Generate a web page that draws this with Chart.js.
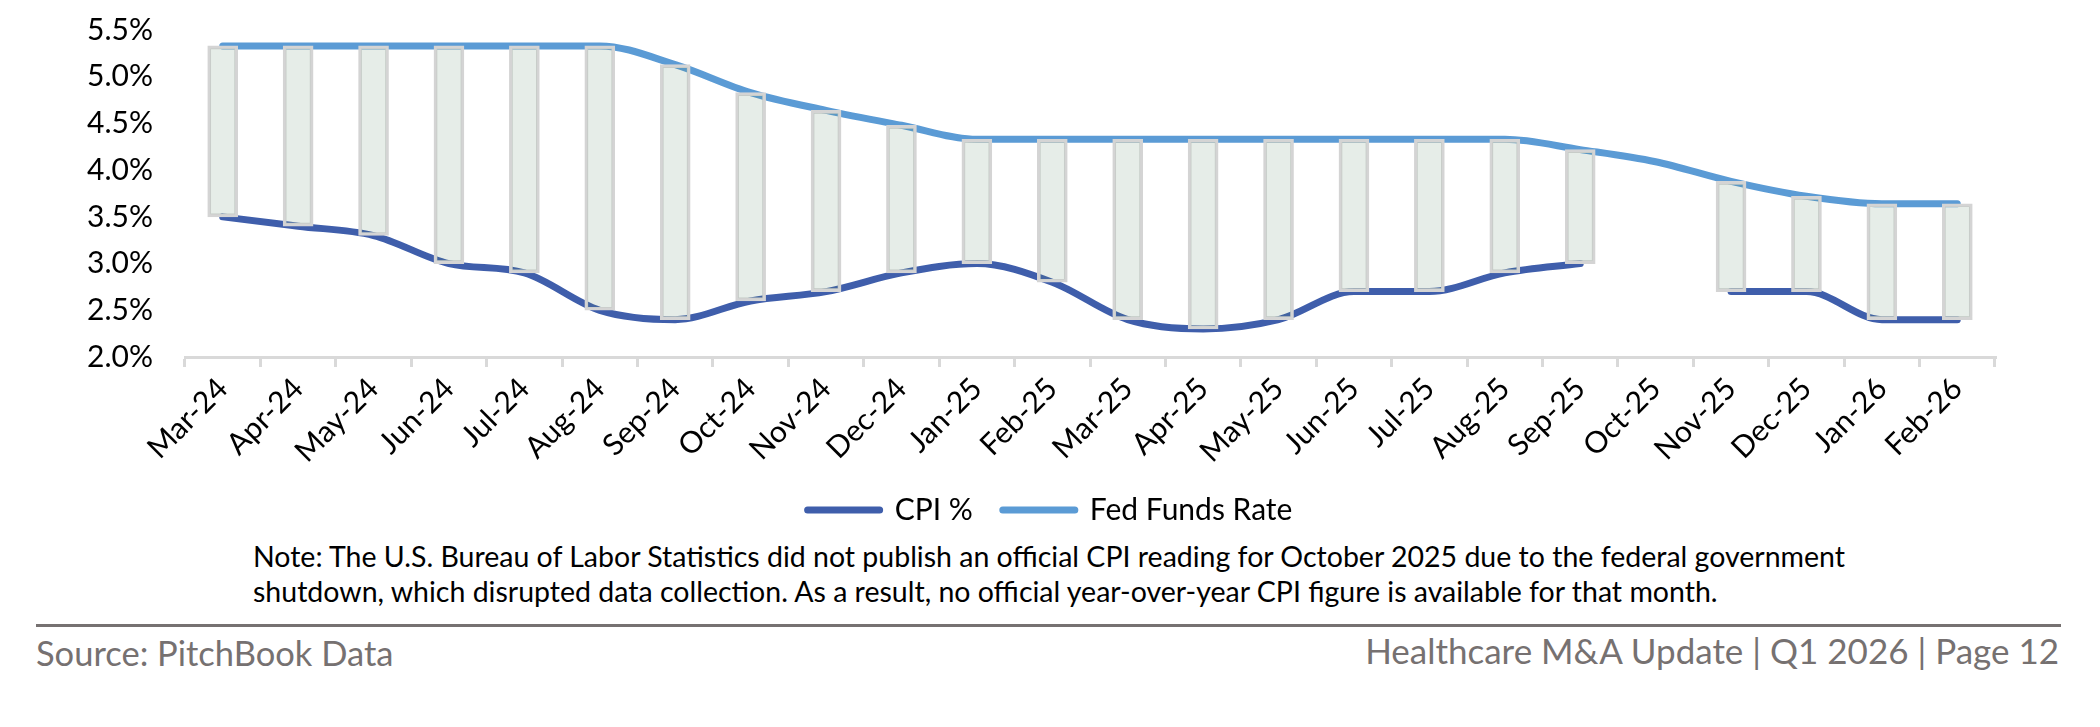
<!DOCTYPE html>
<html lang="en">
<head>
  <meta charset="UTF-8">
  <title>CPI vs Fed Funds Rate</title>
  <script src="https://cdn.jsdelivr.net/npm/chart.js"></script>
  <style>
    body { margin: 0; background: #fff; font-family: Lato, sans-serif; }
    .wrap { position: relative; width: 2100px; height: 727px; }
    #chartBox { position: absolute; left: 0; top: 0; width: 2100px; height: 535px; }
    .note { position: absolute; left: 253px; top: 539px; font-size: 28.5px; line-height: 35px; color: #000; white-space: nowrap; }
    .rule { position: absolute; left: 36px; top: 624px; width: 2025px; height: 3px; background: #767171; }
    .src { position: absolute; left: 36px; top: 632px; font-size: 34.5px; line-height: 1.2; color: #767171; }
    .page { position: absolute; right: 41px; top: 629px; font-size: 35px; line-height: 1.2; color: #767171; }
  </style>
</head>
<body>
<div class="wrap">
  <div id="chartBox"><canvas id="grafico"></canvas></div>
  <div class="note">Note: The U.S. Bureau of Labor Statistics did not publish an official CPI reading for October 2025 due to the federal government<br>shutdown, which disrupted data collection. As a result, no official year-over-year CPI figure is available for that month.</div>
  <div class="rule"></div>
  <div class="src">Source: PitchBook Data</div>
  <div class="page">Healthcare M&amp;A Update | Q1 2026 | Page 12</div>
</div>

<script>
  const meses = ['Mar-24','Apr-24','May-24','Jun-24','Jul-24','Aug-24','Sep-24','Oct-24','Nov-24','Dec-24',
    'Jan-25','Feb-25','Mar-25','Apr-25','May-25','Jun-25','Jul-25','Aug-25','Sep-25','Oct-25','Nov-25','Dec-25',
    'Jan-26','Feb-26'];
  const cpi = [3.5, 3.4, 3.3, 3.0, 2.9, 2.5, 2.4, 2.6, 2.7, 2.9,
    3.0, 2.8, 2.4, 2.3, 2.4, 2.7, 2.7, 2.9, 3.0, null, 2.7, 2.7,
    2.4, 2.4];
  const fed = [5.33, 5.33, 5.33, 5.33, 5.33, 5.33, 5.13, 4.83, 4.64, 4.48,
    4.33, 4.33, 4.33, 4.33, 4.33, 4.33, 4.33, 4.33, 4.22, 4.09, 3.88, 3.72,
    3.64, 3.64];
  const yTicks = [2.0, 2.5, 3.0, 3.5, 4.0, 4.5, 5.0, 5.5];

  const corCpi = '#3f5eab';
  const corFed = '#5b9bd5';
  const fonte = 'Lato';

  // floating bars between the two series (skipped when CPI is missing)
  const faixa = cpi.map((v, i) => v == null ? null : [v, fed[i]]);

  const ctx = document.getElementById('grafico').getContext('2d');
  new Chart(ctx, {
    data: {
      labels: meses,
      datasets: [
        {
          type: 'bar',
          label: 'spread',
          data: faixa,
          backgroundColor: 'rgba(100,140,110,0.16)',
          borderColor: '#d4d4d4',
          borderWidth: 3,
          borderSkipped: false,
          barThickness: 30,
          order: 0
        },
        {
          type: 'line',
          label: 'CPI %',
          data: cpi,
          borderColor: corCpi,
          backgroundColor: corCpi,
          borderWidth: 7,
          borderCapStyle: 'round',
          borderJoinStyle: 'round',
          pointRadius: 0,
          cubicInterpolationMode: 'monotone',
          order: 1
        },
        {
          type: 'line',
          label: 'Fed Funds Rate',
          data: fed,
          borderColor: corFed,
          backgroundColor: corFed,
          borderWidth: 7,
          borderCapStyle: 'round',
          borderJoinStyle: 'round',
          pointRadius: 0,
          cubicInterpolationMode: 'monotone',
          order: 2
        }
      ]
    },
    options: {
      responsive: true,
      maintainAspectRatio: false,
      animation: false,
      layout: { padding: 0 },
      plugins: {
        tooltip: { enabled: false },
        legend: {
          position: 'bottom',
          labels: {
            color: '#000',
            font: { family: fonte, size: 30 },
            usePointStyle: true,
            pointStyleWidth: 72,
            padding: 30,
            generateLabels: (chart) => chart.data.datasets
              .map((ds, i) => ({ ds, i }))
              .filter(o => o.ds.type === 'line')
              .map(o => ({
                text: o.ds.label,
                fillStyle: o.ds.borderColor,
                strokeStyle: o.ds.borderColor,
                lineWidth: 7,
                lineCap: 'round',
                pointStyle: 'line',
                fontColor: '#000',
                datasetIndex: o.i,
                hidden: false
              }))
          }
        }
      },
      scales: {
        x: {
          offset: true,
          grid: { display: true, offset: true, drawOnChartArea: false, drawTicks: true, tickLength: 10, color: '#d9d9d9', lineWidth: 3 },
          border: { display: true, color: '#d9d9d9', width: 3 },
          ticks: { color: '#000', font: { family: fonte, size: 30 }, minRotation: 45, maxRotation: 45, autoSkip: false, padding: 4 },
          afterFit: (s) => { s.height = 108; }
        },
        y: {
          min: 2,
          max: 5.5,
          grid: { display: true, drawOnChartArea: false, drawTicks: true, tickLength: 20, color: 'rgba(0,0,0,0)' },
          border: { display: false },
          afterBuildTicks: (s) => { s.ticks = yTicks.map(v => ({ value: v })); },
          ticks: {
            color: '#000',
            font: { family: fonte, size: 30 },
            padding: 12,
            callback: (v) => Number(v).toFixed(1) + '%'
          },
          afterFit: (s) => { s.width = 185; }
        },
        // empty right-hand margin so the legend centres on the page
        yRight: {
          position: 'right',
          grid: { display: false },
          border: { display: false },
          ticks: { display: false },
          afterFit: (s) => { s.width = 105; }
        }
      }
    }
  });
</script>
</body>
</html>
